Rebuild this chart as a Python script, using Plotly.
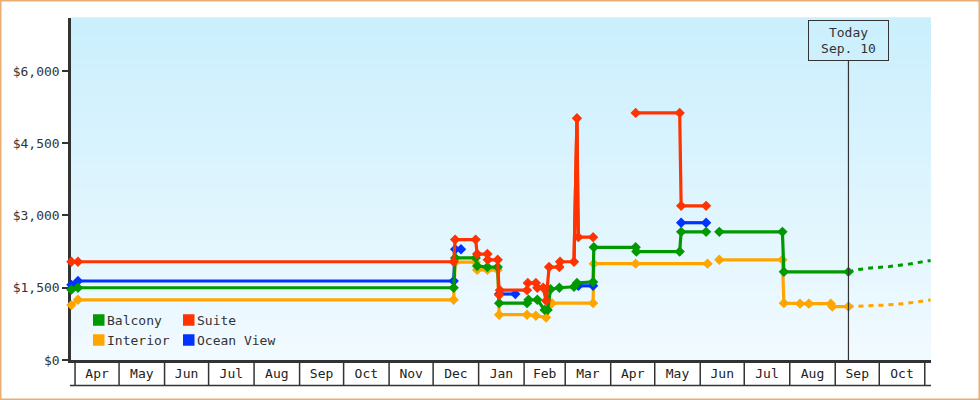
import plotly.graph_objects as go
from datetime import datetime

# ---------------- data ----------------
month_labels = ["Apr", "May", "Jun", "Jul", "Aug", "Sep", "Oct", "Nov", "Dec",
                "Jan", "Feb", "Mar", "Apr", "May", "Jun", "Jul", "Aug", "Sep", "Oct"]
month_starts = ["2018-04-01", "2018-05-01", "2018-06-01", "2018-07-01", "2018-08-01",
                "2018-09-01", "2018-10-01", "2018-11-01", "2018-12-01", "2019-01-01",
                "2019-02-01", "2019-03-01", "2019-04-01", "2019-05-01", "2019-06-01",
                "2019-07-01", "2019-08-01", "2019-09-01", "2019-10-01", "2019-11-01"]

y_ticks = [0, 1500, 3000, 4500, 6000]
y_tick_labels = ["$0", "$1,500", "$3,000", "$4,500", "$6,000"]

series_names = ["Balcony", "Suite", "Interior", "Ocean View"]

balcony_dates = ["2018-03-29 12:00", "2018-04-03", "2018-12-15", "2018-12-16", "2018-12-30",
                 "2018-12-31", "2019-01-07", "2019-01-14", "2019-01-15", "2019-02-03",
                 "2019-02-04", "2019-02-10", "2019-02-15", "2019-02-17", "2019-02-19",
                 "2019-02-25", "2019-03-07", "2019-03-09", "2019-03-20", "2019-03-20 12:00",
                 "2019-04-18", "2019-04-18 12:00", "2019-05-18", "2019-05-19", "2019-06-05",
                 None, "2019-06-14", "2019-07-27", "2019-07-28", "2019-09-10"]
balcony_prices = [1460, 1500, 1500, 2120, 2120,
                  1950, 1930, 1930, 1180, 1180,
                  1250, 1250, 1040, 1040, 1470,
                  1500, 1520, 1600, 1620, 2340,
                  2340, 2250, 2250, 2660, 2660,
                  None, 2660, 2660, 1830, 1830]

suite_dates = ["2018-03-29 12:00", "2018-04-03", "2018-12-15", "2018-12-16", "2018-12-30",
               "2018-12-31", "2019-01-07", "2019-01-07 06:00", "2019-01-14", "2019-01-15",
               "2019-01-15 12:00", "2019-02-03", "2019-02-03 12:00", "2019-02-09", "2019-02-10",
               "2019-02-14", "2019-02-16", "2019-02-18", "2019-02-25", "2019-02-25 12:00",
               "2019-03-07", "2019-03-09", "2019-03-10", "2019-03-20",
               None, "2019-04-18", "2019-05-18", "2019-05-19", "2019-06-05"]
suite_prices = [2040, 2040, 2040, 2500, 2500,
                2200, 2200, 2080, 2080, 1350,
                1450, 1450, 1600, 1600, 1500,
                1500, 1230, 1930, 1930, 2040,
                2040, 5020, 2550, 2550,
                None, 5130, 5130, 3200, 3200]

# short-lived intra-day suite fares around the March spike (no markers in the source)
suite_spike_dates = ["2019-03-07", "2019-03-07 12:00", "2019-03-08", "2019-03-09",
                     "2019-03-09 12:00", "2019-03-10"]
suite_spike_prices = [2040, 2800, 4200, 5020, 3150, 2550]

interior_dates = ["2018-03-29 12:00", "2018-04-03", "2018-12-15", "2018-12-16", "2018-12-30",
                  "2018-12-31", "2019-01-07", "2019-01-14", "2019-01-15", "2019-02-03",
                  "2019-02-09", "2019-02-16", "2019-02-20", "2019-03-20", "2019-03-20 12:00",
                  "2019-04-18", "2019-06-06", None, "2019-06-14", "2019-07-27",
                  "2019-07-28", "2019-08-08", "2019-08-14", "2019-08-29", "2019-08-30",
                  "2019-09-10"]
interior_prices = [1140, 1250, 1250, 2030, 2030,
                   1870, 1870, 1870, 940, 940,
                   920, 880, 1180, 1180, 2000,
                   2000, 2000, None, 2080, 2080,
                   1180, 1170, 1170, 1170, 1110,
                   1110]

ocean_dates = ["2018-03-29 12:00", "2018-04-03", "2018-12-15", "2018-12-16", "2018-12-20",
               None, "2019-01-15", "2019-01-26", None, "2019-03-10", "2019-03-20",
               None, "2019-05-19", "2019-06-05"]
ocean_prices = [1560, 1640, 1640, 2300, 2300,
                None, 1370, 1370, None, 1540, 1540,
                None, 2850, 2850]

# forecasts (after today)
balcony_fc_dates = ["2019-09-10", "2019-09-17", "2019-09-25", "2019-10-08", "2019-10-21", "2019-11-05"]
balcony_fc_prices = [1830, 1880, 1910, 1940, 1990, 2066]
interior_fc_dates = ["2019-09-10", "2019-09-20", "2019-10-05", "2019-10-18", "2019-11-05"]
interior_fc_prices = [1110, 1120, 1140, 1170, 1246]

today = "2019-09-10"
today_label = "Today<br>Sep. 10"
x_range = ["2018-03-29 06:00", "2019-11-05 06:00"]
y_range = [0, 7100]

# ---------------- style ----------------
colors = {"Balcony": "#009900", "Suite": "#ff3300", "Interior": "#ffa500", "Ocean View": "#0033ff"}
FONT = "DejaVu Sans Mono"
INK = "#333333"
W, H = 980, 400
L, R, T, B = 71, 49, 18, 40
PW, PH = W - L - R, H - T - B


def px(x):
    return (x - L) / PW


def py(y):
    return (H - B - y) / PH


fig = go.Figure()

fig.add_trace(go.Scatter(x=interior_fc_dates, y=interior_fc_prices, mode="lines",
                         line=dict(color=colors["Interior"], width=3, dash="5px,5px"),
                         showlegend=False, hoverinfo="skip"))
fig.add_trace(go.Scatter(x=balcony_fc_dates, y=balcony_fc_prices, mode="lines",
                         line=dict(color=colors["Balcony"], width=3, dash="5px,5px"),
                         showlegend=False, hoverinfo="skip"))

draw = [("Interior", interior_dates, interior_prices),
        ("Ocean View", ocean_dates, ocean_prices),
        ("Balcony", balcony_dates, balcony_prices),
        ("Suite", suite_dates, suite_prices)]

for name, xs, ys in draw:
    if name == "Suite":
        fig.add_trace(go.Scatter(x=suite_spike_dates, y=suite_spike_prices, mode="lines",
                                 line=dict(color=colors[name], width=3.2),
                                 showlegend=False, hoverinfo="skip"))
    fig.add_trace(go.Scatter(x=xs, y=ys, name=name, mode="lines+markers",
                             line=dict(color=colors[name], width=3.2),
                             marker=dict(symbol="diamond", size=8, color=colors[name]),
                             cliponaxis=False, connectgaps=False, showlegend=False))

shapes = []
# gradient background
top_rgb = (0xc9, 0xef, 0xfd)
bot_rgb = (0xf2, 0xfa, 0xff)
N = 40
for i in range(N):
    t = (i + 0.5) / N
    c = tuple(round(bot_rgb[k] + (top_rgb[k] - bot_rgb[k]) * t) for k in range(3))
    shapes.append(dict(type="rect", xref="paper", yref="paper", x0=0, x1=1,
                       y0=i / N, y1=(i + 1) / N + 0.002, layer="below",
                       fillcolor="rgb(%d,%d,%d)" % c, line=dict(width=0)))

# month boxes below the axis
for d in month_starts:
    shapes.append(dict(type="line", xref="x", yref="paper", x0=d, x1=d,
                       y0=py(361), y1=py(385.5), line=dict(color=INK, width=1.5)))
shapes.append(dict(type="line", xref="paper", yref="paper", x0=px(70), x1=1,
                   y0=py(385.5), y1=py(385.5), line=dict(color=INK, width=1.5)))

# today line
shapes.append(dict(type="line", xref="x", yref="paper", x0=today, x1=today,
                   y0=0, y1=py(61), line=dict(color=INK, width=1.2)))

# outer border
shapes.append(dict(type="rect", xref="paper", yref="paper",
                   x0=px(0.75), x1=px(W - 0.75), y0=py(H - 0.75), y1=py(0.75),
                   line=dict(color="#e8ad70", width=1.5), fillcolor="rgba(0,0,0,0)"))

annotations = []
# legend (manual, 2 columns)
legend_pos = {"Balcony": (93, 320), "Suite": (183, 320), "Interior": (93, 340), "Ocean View": (183, 340)}
for name in series_names:
    x0, yc = legend_pos[name]
    shapes.append(dict(type="rect", xref="paper", yref="paper",
                       x0=px(x0), x1=px(x0 + 11.5), y0=py(yc + 5.75), y1=py(yc - 5.75),
                       fillcolor=colors[name], line=dict(width=0)))
    annotations.append(dict(xref="paper", yref="paper", x=px(x0 + 12), y=py(yc),
                            xanchor="left", yanchor="middle", showarrow=False, text=name,
                            font=dict(family=FONT, size=13, color=INK)))

# today box
annotations.append(dict(xref="x", yref="paper", x=today, y=py(20), xanchor="center",
                        yanchor="top", showarrow=False, text=today_label, align="center",
                        font=dict(family=FONT, size=13, color=INK),
                        bordercolor=INK, borderwidth=1, borderpad=2, width=75, height=35,
                        bgcolor="rgba(0,0,0,0)"))


def mid(a, b):
    da = datetime.fromisoformat(a)
    db = datetime.fromisoformat(b)
    return (da + (db - da) / 2).strftime("%Y-%m-%d %H:%M")


tick_pos = [mid(month_starts[i], month_starts[i + 1]) for i in range(len(month_labels))]

fig.update_layout(
    width=W, height=H, autosize=False,
    margin=dict(l=L, r=R, t=T, b=B, pad=0),
    paper_bgcolor="white", plot_bgcolor="rgba(0,0,0,0)",
    font=dict(family=FONT, size=13, color=INK),
    shapes=shapes, annotations=annotations, showlegend=False,
    xaxis=dict(type="date", range=x_range, tickvals=tick_pos, ticktext=month_labels,
               ticks="", showgrid=False, zeroline=False, showline=True,
               linecolor=INK, linewidth=2.5, layer="below traces",
               tickfont=dict(family=FONT, size=13, color="#222222"), fixedrange=True),
    yaxis=dict(range=y_range, tickvals=y_ticks, ticktext=y_tick_labels,
               ticks="outside", ticklen=6, tickwidth=2, tickcolor=INK,
               showgrid=False, zeroline=False, showline=True, linecolor=INK,
               linewidth=2.5, layer="below traces",
               tickfont=dict(family=FONT, size=13, color=INK), fixedrange=True),
)

fig.write_html("out.html", config={"displayModeBar": False},
               post_script="document.body.style.margin='0';document.body.style.overflow='hidden';")
